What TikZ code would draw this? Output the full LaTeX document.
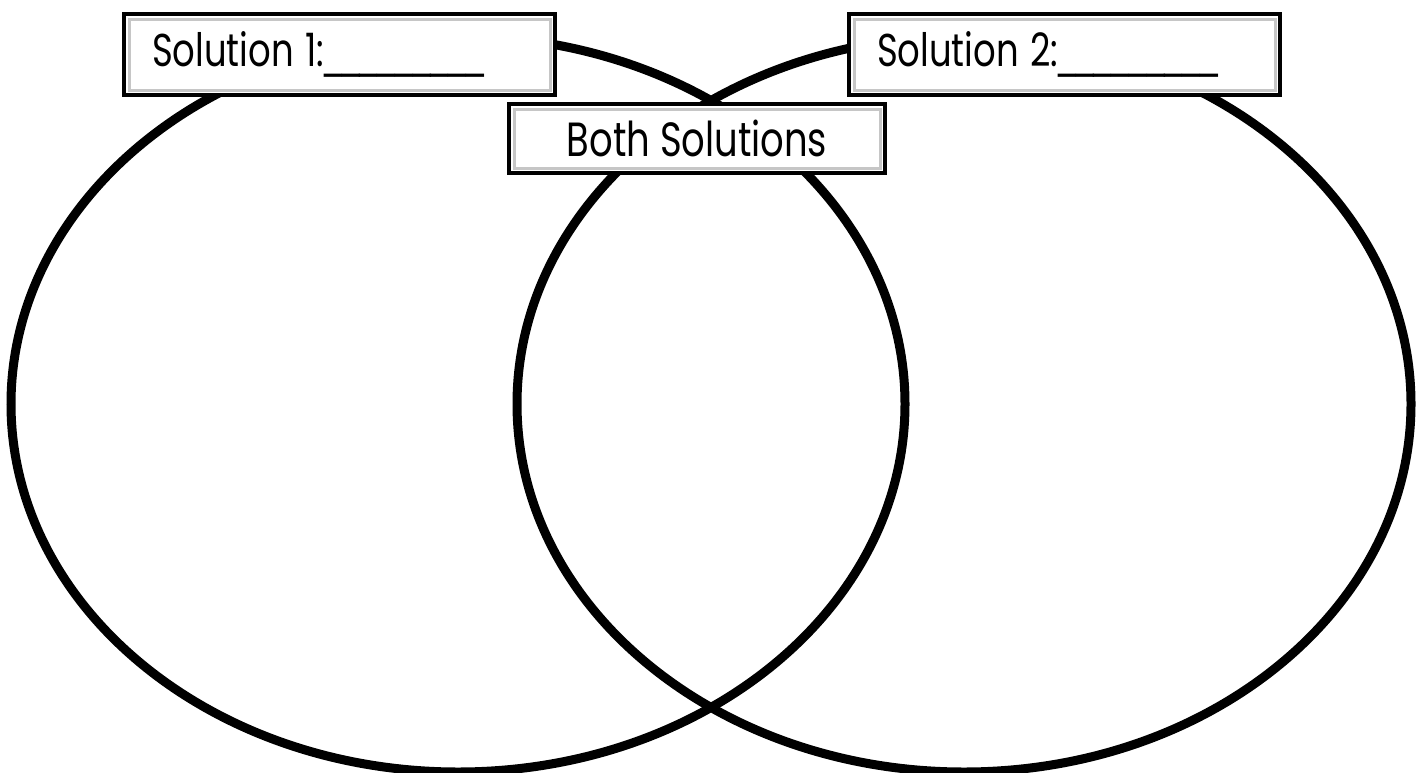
\documentclass[tikz,border=0pt]{standalone}
\usepackage{fontspec}
\usepackage{graphicx}
\setmainfont{Poppins}
\newfontfamily\rayas{DejaVu Sans}
\usetikzlibrary{positioning}

% texto algo estrecho, como en la plantilla
\newcommand{\estrecho}[1]{\scalebox{0.77}[1]{#1}}
\newcommand{\hueco}{{\rayas\_\_\_\_\_\_\_\_\_}}

\tikzset{
  caja/.style={draw, line width=4pt, fill=white, minimum height=81pt,
    path picture={\draw[gray!45, line width=3pt]
      ([shift={(5pt,5pt)}]path picture bounding box.south west) rectangle
      ([shift={(-5pt,-5pt)}]path picture bounding box.north east);}},
  rotulo/.style={font=\fontsize{46}{50}\selectfont}
}

\begin{document}
\begin{tikzpicture}[x=1pt, y=-1pt]
  \useasboundingbox (0,0) rectangle (1426,772);

  % Conjuntos (contornos)
  \draw[line width=9pt] (458,404) ellipse (447 and 368);
  \draw[line width=9pt] (964,404) ellipse (447 and 368);

  % Rotulos de cada conjunto
  \node[caja, rotulo, text width=375pt, inner xsep=28pt, align=left] (sol1) at (339.5,54.5)
    {\estrecho{Solution 1:\hueco}};
  \node[caja, rotulo, text width=375pt, inner xsep=28pt, align=left] (sol2) at (1064.5,54.5)
    {\estrecho{Solution 2:\hueco}};

  % Interseccion
  \node[caja, font=\fontsize{48}{52}\selectfont, minimum width=376pt, minimum height=69pt]
    (both) at (697,138.5) {\estrecho{Both Solutions}\hspace{20pt}};
\end{tikzpicture}
\end{document}
